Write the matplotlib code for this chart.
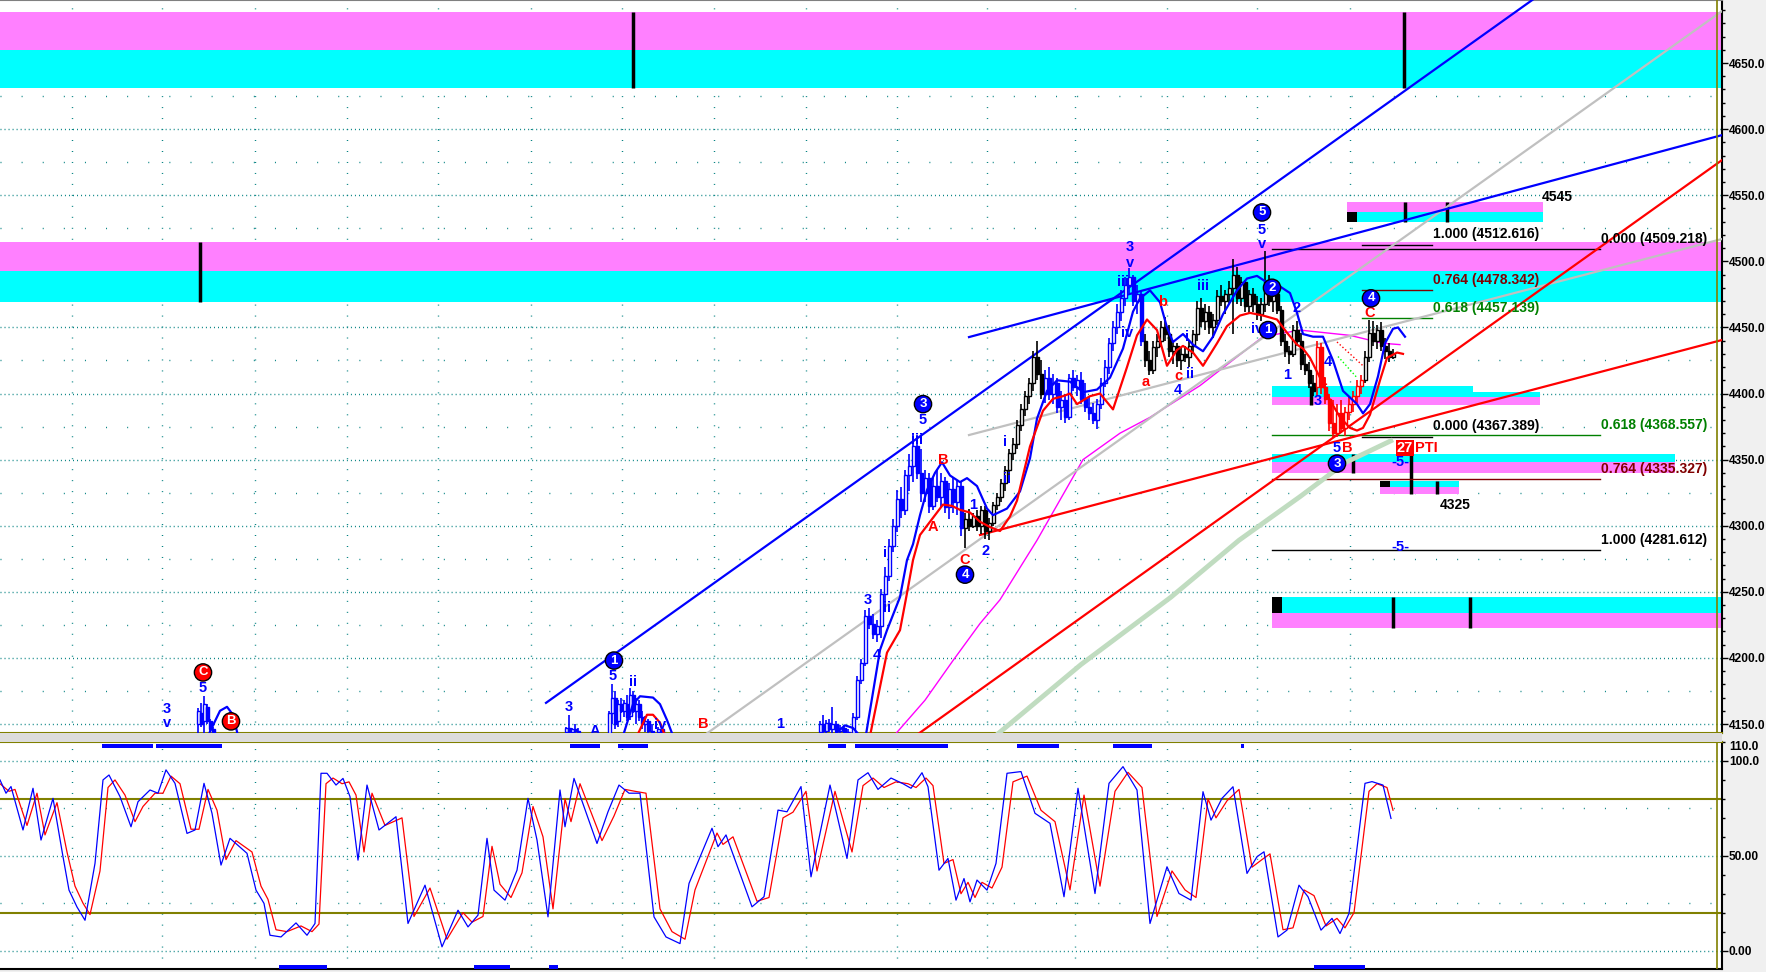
import matplotlib
matplotlib.use("Agg")
import matplotlib.pyplot as plt
from matplotlib.patches import Rectangle
from matplotlib.ticker import MultipleLocator

plt.rcParams["font.family"] = ["Liberation Sans", "DejaVu Sans"]

#! --- data --- !#
# price bars, grouped by the colour the platform painted them
blue_x = [198, 201, 204, 207, 210, 213,
          566, 569, 572, 575, 578,
          609, 612, 615, 618, 621, 624, 627, 630, 633, 636, 639, 642, 645, 648, 652, 658, 662,
          820, 823, 826, 829, 832, 836, 840, 844, 848,
          853, 857, 861, 865, 869, 873, 877, 881, 885, 889, 893, 897, 901, 905, 909, 913, 917, 921, 925, 929, 933, 937, 941, 945, 949, 953, 957, 961,
          1045, 1049, 1053, 1057, 1061, 1065, 1069, 1073, 1077, 1081, 1085, 1089, 1093, 1097, 1101, 1105, 1109, 1113, 1117, 1121, 1125, 1129, 1133, 1137, 1141]
blue_o = [4150, 4158, 4152, 4163, 4152, 4146,
          4144, 4147, 4144, 4146, 4145,
          4143, 4158, 4170, 4152, 4165, 4160, 4165, 4156, 4172, 4160, 4165, 4155, 4150, 4152, 4145, 4144, 4146,
          4144, 4150, 4145, 4151, 4146, 4150, 4145, 4147, 4143,
          4143, 4155, 4183, 4196, 4232, 4226, 4218, 4224, 4248, 4262, 4285, 4300, 4320, 4312, 4338, 4345, 4360, 4340, 4325, 4336, 4315, 4330, 4322, 4334, 4314, 4328, 4318, 4330,
          4400, 4412, 4400, 4408, 4390, 4395, 4382, 4412, 4405, 4410, 4396, 4390, 4385, 4380, 4392, 4408, 4420, 4438, 4450, 4462, 4472, 4482, 4488, 4470, 4475]
blue_h = [4162, 4166, 4171, 4165, 4154, 4148,
          4148, 4157, 4147, 4150, 4147,
          4160, 4180, 4175, 4168, 4170, 4168, 4172, 4177, 4175, 4170, 4168, 4160, 4156, 4154, 4150, 4148, 4147,
          4152, 4157, 4153, 4154, 4163, 4152, 4149, 4149, 4146,
          4158, 4186, 4199, 4236, 4238, 4233, 4229, 4252, 4269, 4290, 4305, 4327, 4329, 4342, 4354, 4370, 4369, 4358, 4342, 4340, 4336, 4343, 4340, 4337, 4332, 4336, 4334, 4334,
          4418, 4420, 4415, 4412, 4402, 4400, 4415, 4418, 4414, 4416, 4408, 4398, 4393, 4396, 4412, 4425, 4442, 4455, 4468, 4478, 4488, 4495, 4490, 4482, 4478]
blue_l = [4140, 4148, 4140, 4150, 4144, 4140,
          4140, 4142, 4140, 4143, 4141,
          4140, 4150, 4146, 4148, 4158, 4155, 4152, 4153, 4158, 4150, 4152, 4146, 4144, 4142, 4140, 4140, 4140,
          4140, 4143, 4142, 4144, 4143, 4141, 4141, 4141, 4140,
          4140, 4153, 4180, 4194, 4222, 4214, 4212, 4215, 4240, 4258, 4280, 4295, 4306, 4308, 4326, 4333, 4335, 4318, 4318, 4310, 4312, 4318, 4314, 4310, 4305, 4310, 4308, 4292,
          4393, 4395, 4392, 4385, 4380, 4378, 4380, 4402, 4398, 4392, 4386, 4380, 4377, 4373, 4388, 4405, 4415, 4432, 4445, 4455, 4466, 4476, 4466, 4460, 4436]
blue_c = [4160, 4150, 4165, 4152, 4146, 4143,
          4147, 4144, 4146, 4145, 4143,
          4158, 4170, 4150, 4165, 4160, 4166, 4155, 4172, 4160, 4165, 4155, 4150, 4152, 4145, 4143, 4146, 4142,
          4150, 4145, 4151, 4146, 4150, 4145, 4147, 4143, 4144,
          4155, 4183, 4196, 4232, 4226, 4218, 4224, 4248, 4262, 4285, 4300, 4320, 4312, 4338, 4345, 4360, 4340, 4325, 4336, 4315, 4330, 4322, 4334, 4314, 4328, 4318, 4330, 4298,
          4412, 4400, 4408, 4390, 4395, 4382, 4412, 4405, 4410, 4396, 4390, 4385, 4380, 4392, 4408, 4420, 4438, 4450, 4462, 4472, 4482, 4488, 4470, 4475, 4440]

black_x = [965, 969, 973, 977, 981, 985, 989, 993, 997, 1001, 1005, 1009, 1013, 1017, 1021, 1025, 1029, 1033, 1037, 1041,
           1145, 1149, 1153, 1157, 1161, 1165, 1169, 1173, 1177, 1181, 1185, 1189, 1193, 1197, 1201, 1205, 1209, 1213, 1217, 1221, 1225,
           1229, 1233, 1237, 1241, 1245, 1249, 1253, 1257, 1261, 1265, 1269, 1273, 1277, 1281, 1285, 1289, 1293, 1297, 1301, 1305, 1309, 1313,
           1365, 1369, 1373, 1377, 1381, 1385, 1389, 1393]
black_o = [4298, 4305, 4300, 4307, 4300, 4312, 4296, 4302, 4316, 4322, 4332, 4342, 4355, 4362, 4376, 4388, 4398, 4408, 4428, 4415,
           4440, 4425, 4418, 4435, 4440, 4450, 4445, 4432, 4436, 4425, 4430, 4428, 4436, 4445, 4465, 4455, 4462, 4450, 4456, 4474, 4470,
           4475, 4480, 4490, 4472, 4484, 4466, 4475, 4468, 4460, 4468, 4485, 4470, 4475, 4463, 4440, 4432, 4430, 4448, 4440, 4422, 4418, 4408,
           4410, 4428, 4446, 4440, 4448, 4436, 4432, 4428]
black_h = [4310, 4313, 4310, 4312, 4315, 4315, 4306, 4318, 4325, 4335, 4345, 4358, 4366, 4380, 4392, 4402, 4412, 4432, 4440, 4425,
           4445, 4432, 4440, 4445, 4455, 4458, 4452, 4440, 4438, 4435, 4436, 4440, 4448, 4470, 4472, 4468, 4466, 4460, 4478, 4482, 4478,
           4485, 4502, 4496, 4488, 4486, 4478, 4480, 4474, 4472, 4508, 4490, 4480, 4478, 4466, 4445, 4436, 4452, 4455, 4446, 4430, 4424, 4414,
           4432, 4456, 4455, 4452, 4454, 4442, 4438, 4434]
black_l = [4283, 4296, 4298, 4296, 4294, 4290, 4289, 4300, 4312, 4318, 4326, 4338, 4350, 4358, 4372, 4383, 4392, 4402, 4410, 4396,
           4420, 4414, 4415, 4428, 4435, 4440, 4428, 4422, 4420, 4418, 4424, 4420, 4430, 4440, 4450, 4448, 4445, 4442, 4452, 4466, 4460,
           4468, 4445, 4468, 4466, 4462, 4460, 4462, 4456, 4455, 4462, 4466, 4462, 4460, 4436, 4428, 4422, 4428, 4436, 4418, 4414, 4404, 4398,
           4408, 4424, 4436, 4434, 4432, 4426, 4424, 4426]
black_c = [4305, 4300, 4307, 4300, 4312, 4296, 4302, 4316, 4322, 4332, 4342, 4355, 4362, 4376, 4388, 4398, 4408, 4428, 4415, 4400,
           4425, 4418, 4435, 4440, 4450, 4445, 4432, 4436, 4425, 4430, 4428, 4436, 4445, 4465, 4455, 4462, 4450, 4456, 4474, 4470, 4475,
           4480, 4490, 4472, 4484, 4466, 4475, 4468, 4460, 4468, 4485, 4470, 4475, 4463, 4440, 4432, 4430, 4448, 4440, 4422, 4418, 4408, 4402,
           4428, 4446, 4440, 4448, 4436, 4432, 4428, 4430]

red_x = [1317, 1321, 1325, 1329, 1333, 1337, 1341, 1345, 1349, 1353, 1357, 1361]
red_o = [4405, 4435, 4405, 4396, 4378, 4370, 4385, 4374, 4386, 4392, 4398, 4406]
red_h = [4440, 4438, 4412, 4400, 4395, 4392, 4395, 4390, 4398, 4402, 4410, 4414]
red_l = [4398, 4400, 4392, 4372, 4367, 4367, 4370, 4368, 4380, 4386, 4393, 4400]
red_c = [4435, 4405, 4396, 4378, 4370, 4385, 4374, 4386, 4392, 4398, 4406, 4410]

# upper (blue) and lower (red) smoothing curves
envb_segments = [
    ([208, 213, 220, 227, 233, 238], [4141, 4149, 4160, 4163, 4157, 4141]),
    ([623, 633, 640, 653, 660, 667, 673], [4141, 4165, 4171, 4170, 4165, 4153, 4141]),
    ([833, 845, 853, 860], [4141, 4149, 4147, 4141]),
    ([866, 880, 887, 900, 907, 913, 920, 927, 935, 942, 950, 960, 967, 977, 987, 993, 1007, 1020, 1030, 1037,
      1047, 1057, 1070, 1083, 1097, 1110, 1123, 1133, 1140, 1150, 1160, 1167, 1173, 1183, 1193, 1203, 1213, 1223, 1237, 1247,
      1257, 1267, 1280, 1290, 1297, 1303, 1313, 1323, 1333, 1343, 1357, 1363, 1370, 1378, 1385, 1393, 1398, 1405],
     [4142, 4206, 4221, 4246, 4274, 4286, 4308, 4327, 4340, 4348, 4338, 4333, 4336, 4330, 4313, 4308, 4313, 4326, 4351, 4381,
      4402, 4410, 4409, 4401, 4403, 4412, 4434, 4462, 4472, 4478, 4469, 4450, 4439, 4445, 4437, 4432, 4443, 4460, 4478, 4487,
      4489, 4484, 4481, 4476, 4461, 4445, 4443, 4443, 4425, 4402, 4392, 4385, 4392, 4413, 4438, 4449, 4450, 4443]),
]
envr_segments = [
    ([637, 647, 653, 660, 665], [4141, 4157, 4157, 4151, 4141]),
    ([870, 887, 900, 907, 913, 920, 933, 943, 952, 960, 970, 980, 990, 1000, 1010, 1017, 1030, 1043, 1053, 1063,
      1070, 1077, 1090, 1100, 1113, 1127, 1137, 1147, 1157, 1167, 1177, 1183, 1193, 1203, 1217, 1227, 1240, 1250, 1263, 1277,
      1287, 1297, 1303, 1310, 1320, 1330, 1340, 1350, 1357, 1363, 1370, 1380, 1387, 1397, 1403],
     [4141, 4204, 4221, 4249, 4274, 4293, 4306, 4316, 4315, 4312, 4310, 4303, 4299, 4296, 4307, 4319, 4360, 4387, 4396, 4398,
      4400, 4392, 4398, 4400, 4388, 4420, 4444, 4456, 4448, 4421, 4433, 4436, 4431, 4421, 4438, 4451, 4459, 4461, 4459, 4456,
      4446, 4437, 4434, 4427, 4412, 4395, 4382, 4374, 4372, 4374, 4384, 4410, 4427, 4431, 4430]),
]
ma_fast_x = [895, 925, 953, 980, 1000, 1037, 1083, 1120, 1150, 1200, 1263, 1300, 1350, 1383, 1400]
ma_fast_p = [4142, 4168, 4198, 4226, 4244, 4289, 4350, 4370, 4382, 4406, 4443, 4448, 4444, 4438, 4437]
ma_slow_x = [997, 1081, 1171, 1239, 1300, 1346, 1393]
ma_slow_p = [4142, 4195, 4246, 4289, 4322, 4348, 4365]

# trend lines: (x0, p0, x1, p1)
blue_lines = [(546, 4166, 1620, 4745), (969, 4442.7, 1722, 4595.5)]
gray_lines = [(706, 4142.4, 1722, 4689.3), (969, 4368.6, 1722, 4516.9)]
red_lines = [(918, 4142.4, 1722, 4576.6), (980, 4293, 1722, 4440.5)]

# support / resistance zones: x0, x1, cyan range, magenta range
zone_x0 = [0, 0, 1347, 1272, 1473, 1272, 1380, 1272]
zone_x1 = [1722, 1722, 1543, 1473, 1540, 1675, 1459, 1722]
zone_cyan = [(4631, 4660), (4469, 4493), (4530, 4537), (4397, 4406), (4397, 4401), (4348, 4354), (4329, 4334), (4234, 4246)]
zone_mag = [(4660, 4689), (4493, 4515), (4537, 4545), (4391, 4397), (4391, 4397), (4340, 4348), (4324, 4329), (4223, 4234)]
marker_x = [633, 1404, 200, 1405, 1447, 1311, 1353, 1411, 1437, 1393, 1470]
marker_lo = [4631, 4631, 4469, 4530, 4530, 4391, 4340, 4324, 4324, 4223, 4223]
marker_hi = [4689, 4689, 4515, 4545, 4545, 4406, 4354, 4354, 4334, 4246, 4246]
square_x = [1347, 1380, 1272]
square_p = [(4530, 4537), (4329, 4334), (4234, 4246)]

# fibonacci projections
fibA = [(1.000, 4512.616, "black"), (0.764, 4478.342, "#800000"), (0.618, 4457.139, "#008000"), (0.000, 4367.389, "black")]
fibB = [(0.000, 4509.218, "black"), (0.618, 4368.557, "#008000"), (0.764, 4335.327, "#800000"), (1.000, 4281.612, "black")]

# wave labels
blue_lab = [("3", 167, 4161), ("v", 167, 4151), ("5", 203, 4177), ("3", 569, 4163), ("5", 613, 4186), ("ii", 633, 4182),
            ("iv", 660, 4149), ("A", 595, 4145), ("1", 780, 4150), ("3", 868, 4244), ("ii", 887, 4238), ("4", 877, 4202),
            ("i", 885, 4279), ("iii", 917, 4365), ("5", 923, 4380), ("1", 973, 4316), ("2", 986, 4281), ("i", 1005, 4363),
            ("ii", 1007, 4335), ("3", 1130, 4511), ("v", 1130, 4499), ("iii", 1123, 4484), ("iv", 1127, 4446), ("4", 1178, 4403),
            ("i", 1187, 4443), ("ii", 1190, 4415), ("iii", 1203, 4481), ("5", 1262, 4524), ("v", 1262, 4513), ("iv", 1257, 4449),
            ("2", 1297, 4465), ("1", 1287, 4414), ("3", 1318, 4394), ("4", 1328, 4424), ("5", 1337, 4359),
            ("-5-", 1400, 4348), ("-5-", 1400, 4284)]
red_lab = [("B", 703, 4150), ("A", 933, 4299), ("B", 943, 4350), ("C", 965, 4274), ("a", 1146, 4409), ("b", 1163, 4469),
           ("c", 1178, 4413), ("4", 1323, 4408), ("B", 1347, 4359), ("C", 1370, 4461)]
blue_circ = [("1", 614, 4198), ("3", 923, 4392), ("4", 965, 4263), ("5", 1262, 4537), ("2", 1272, 4480),
             ("1", 1268, 4448), ("3", 1337, 4347), ("4", 1371, 4472)]
red_circ = [("C", 203, 4189), ("B", 231, 4152)]

# date grid columns
grid_x = [72, 162, 255, 347, 438, 531, 622, 714, 806, 897, 987, 1075, 1167, 1257, 1350]

# stochastic oscillator
stk_x = [0, 6, 11, 23, 33, 41, 53, 63, 69, 77, 85, 95, 103, 109, 120, 131, 138, 150, 158, 166, 175, 187, 195, 204, 212, 221, 230,
         247, 256, 264, 270, 281, 296, 307, 315, 321, 327, 336, 343, 350, 358, 367, 379, 396, 408, 425, 442, 458, 468, 478, 487,
         494, 505, 517, 528, 537, 548, 560, 565, 574, 597, 608, 619, 629, 640, 654, 666, 680, 689, 712, 718, 726, 752, 764, 778,
         787, 801, 811, 830, 847, 858, 868, 878, 891, 903, 911, 922, 928, 939, 948, 956, 964, 970, 977, 987, 996, 1007, 1021,
         1035, 1050, 1064, 1078, 1095, 1109, 1123, 1137, 1150, 1167, 1179, 1191, 1203, 1211, 1222, 1233, 1247, 1257, 1264, 1278,
         1287, 1299, 1308, 1321, 1332, 1340, 1349, 1365, 1372, 1383, 1391]
stk_k = [90, 83, 86.5, 63.6, 85.6, 58.3, 80.3, 49.5, 31.9, 23, 16, 46, 90, 92.6, 81.2, 65.3, 78.5, 84.7, 83, 95.3, 88.2, 61.8,
         63.6, 88.2, 72.4, 45.1, 59.2, 51.3, 31.9, 24.9, 8.1, 7.2, 14.6, 8.1, 14.3, 93.5, 93.5, 87.3, 90.8, 81.2, 47.7, 87.3,
         63.6, 70.6, 14.3, 34.5, 2, 21.3, 12.5, 18.7, 59.2, 31.9, 26.6, 42.4, 80.3, 58.3, 17.8, 84.7, 65.3, 90.8, 56.5, 73.2,
         87.3, 83, 83, 17.8, 7.2, 3.7, 35.4, 64.5, 54.8, 61, 23.1, 28.4, 74.1, 73.2, 86.5, 38.9, 87.3, 48.6, 90, 93.8, 85, 91,
         88, 85.6, 93.8, 86.4, 42.4, 48.6, 26.6, 38, 25.7, 37.2, 31.9, 46, 93.5, 94.4, 72.4, 67.1, 28.4, 85.6, 30.1, 88.2, 97,
         84.7, 14.3, 44.2, 30.1, 26.6, 83.8, 68.8, 80.3, 86.4, 40.7, 49.5, 52.1, 7.2, 10.8, 34.5, 28.4, 10.8, 17, 9, 19.6, 88.2,
         89.1, 87.3, 69.7]
std_x = [0, 9, 15, 27, 37, 45, 57, 67, 75, 83, 90, 100, 108, 115, 125, 135, 143, 155, 163, 171, 180, 191, 199, 208, 217, 226, 236,
         252, 261, 268, 276, 287, 301, 312, 319, 326, 333, 342, 349, 356, 364, 372, 385, 402, 414, 430, 447, 463, 472, 483, 492,
         500, 511, 522, 533, 543, 553, 565, 571, 580, 602, 614, 625, 635, 646, 660, 672, 685, 695, 717, 723, 733, 757, 769, 783,
         793, 806, 817, 835, 852, 863, 873, 884, 896, 908, 916, 926, 933, 944, 953, 961, 968, 975, 982, 992, 1002, 1013, 1027,
         1041, 1055, 1070, 1084, 1100, 1115, 1128, 1142, 1157, 1172, 1185, 1196, 1208, 1216, 1227, 1239, 1252, 1262, 1270, 1283,
         1293, 1304, 1314, 1326, 1337, 1345, 1354, 1369, 1377, 1387, 1393]
std_d = [88, 84, 85, 66, 83, 61, 78, 52, 34, 25, 19, 42, 86, 90, 82, 68, 76, 83, 83, 92, 88, 64, 64, 85, 74, 48, 58, 52, 34, 27,
         11, 10, 13, 10, 14, 88, 91, 88, 89, 82, 52, 83, 66, 70, 18, 33, 6, 20, 15, 18, 55, 35, 28, 41, 76, 60, 22, 80, 68, 88,
         58, 71, 85, 84, 83, 22, 10, 6, 32, 62, 56, 60, 26, 28, 70, 73, 84, 42, 84, 52, 87, 91, 86, 89, 88, 86, 91, 87, 46, 48,
         30, 36, 28, 36, 33, 44, 89, 92, 74, 68, 32, 82, 34, 84, 94, 86, 18, 42, 32, 28, 80, 70, 79, 85, 44, 48, 51, 11, 12, 32,
         29, 13, 17, 12, 20, 84, 88, 86, 74]
sig_top = [(102, 153), (156, 222), (570, 600), (618, 648), (828, 846), (855, 948), (1017, 1059), (1113, 1152), (1241, 1244)]
sig_bot = [(279, 327), (474, 510), (549, 558), (1314, 1365)]

BLUE = "#0000ff"
RED = "#ff0000"
OLIVE = "#808000"
TEAL = "#008080"
MAG = "#ff80ff"
CYAN = "#00ffff"

fig = plt.figure(figsize=(17.66, 9.72), dpi=100, facecolor="#f0f0f0")
ax = fig.add_axes([0, 1 - 733 / 972, 1722 / 1766, 733 / 972])
ax2 = fig.add_axes([0, 3 / 972, 1722 / 1766, 227 / 972])
ax.set_xlim(0, 1722)
ax.set_ylim(4143.2, 4697.7)
ax2.set_xlim(0, 1722)
ax2.set_ylim(-9.7, 110)

# grid
for a, major, minor in [(ax, range(4150, 4700, 50), range(4175, 4700, 50)), (ax2, [0, 50, 100], [25, 75])]:
    for v in major:
        a.axhline(v, color=TEAL, lw=1, ls=(0, (0.7, 2.2)), zorder=0)
    for v in minor:
        a.axhline(v, color=TEAL, lw=1, ls=(0, (0.7, 14.5)), zorder=0)
    for gx in grid_x:
        a.axvline(gx, color=TEAL, lw=1, ls=(0, (0.7, 7.2)), zorder=0)

# zones
for x0, x1, cy, mg in zip(zone_x0, zone_x1, zone_cyan, zone_mag):
    ax.add_patch(Rectangle((x0, cy[0]), x1 - x0, cy[1] - cy[0], fc=CYAN, ec="none", zorder=1))
    ax.add_patch(Rectangle((x0, mg[0]), x1 - x0, mg[1] - mg[0], fc=MAG, ec="none", zorder=1))
ax.vlines(marker_x, marker_lo, marker_hi, color="black", lw=2.5, zorder=2)
for sx, sp in zip(square_x, square_p):
    ax.add_patch(Rectangle((sx, sp[0]), 10, sp[1] - sp[0], fc="black", ec="none", zorder=2))

# fib lines
for ratio, lvl, col in fibA:
    ax.plot([1362, 1432], [lvl, lvl], color=col, lw=1, zorder=3)
    ax.text(1433, lvl + 2.5, f"{ratio:.3f} ({lvl:.3f})", color=col, fontsize=10, fontweight="bold",
            va="bottom", ha="left", zorder=12)
for ratio, lvl, col in fibB:
    ax.plot([1272, 1600], [lvl, lvl], color=col, lw=1, zorder=3)
    ax.text(1601, lvl + 2.5, f"{ratio:.3f} ({lvl:.3f})", color=col, fontsize=10, fontweight="bold",
            va="bottom", ha="left", zorder=12)

# moving averages and trend lines
ax.plot(ma_slow_x, ma_slow_p, color="#c0dcc0", lw=3.5, zorder=3, solid_capstyle="butt")
ax.plot(ma_fast_x, ma_fast_p, color="#ff00ff", lw=1, zorder=3)
for lines, col in [(gray_lines, "#c0c0c0"), (blue_lines, BLUE), (red_lines, RED)]:
    for x0, p0, x1, p1 in lines:
        ax.plot([x0, x1], [p0, p1], color=col, lw=1.6, zorder=4)
ax.plot([1337, 1363], [4439, 4421], color=RED, lw=1, ls=":", zorder=4)
ax.plot([1338, 1357], [4428, 4412], color="#00ff00", lw=1, ls=":", zorder=4)

# price bars
for xs, o, h, l, c, col in [(blue_x, blue_o, blue_h, blue_l, blue_c, BLUE),
                           (black_x, black_o, black_h, black_l, black_c, "black"),
                           (red_x, red_o, red_h, red_l, red_c, RED)]:
    ax.vlines(xs, l, h, color=col, lw=1.2, zorder=6)
    for x, op, cl in zip(xs, o, c):
        ax.add_patch(Rectangle((x - 1.5, min(op, cl)), 3, max(abs(cl - op), 0.6),
                               fc="white" if cl >= op else col, ec=col, lw=1, zorder=7))

for xs, ps in envb_segments:
    ax.plot(xs, ps, color=BLUE, lw=1.6, zorder=8)
for xs, ps in envr_segments:
    ax.plot(xs, ps, color=RED, lw=1.6, zorder=8)

# labels
for t, x, p in blue_lab:
    ax.text(x, p, t, color=BLUE, fontsize=10.5, fontweight="bold", ha="center", va="center", zorder=12)
for t, x, p in red_lab:
    ax.text(x, p, t, color=RED, fontsize=10.5, fontweight="bold", ha="center", va="center", zorder=12)
for circ, fc in [(blue_circ, BLUE), (red_circ, RED)]:
    for t, x, p in circ:
        ax.text(x, p, t, color="white", fontsize=9.5, fontweight="bold", ha="center", va="center", zorder=13,
                bbox=dict(boxstyle="circle,pad=0.2", fc=fc, ec="black", lw=1))
ax.text(1405, 4359, "27", color="white", fontsize=10.5, fontweight="bold", ha="center", va="center", zorder=13,
        bbox=dict(boxstyle="square,pad=0.08", fc=RED, ec="none"))
ax.text(1415, 4359, "PTI", color=RED, fontsize=10.5, fontweight="bold", ha="left", va="center", zorder=13)
ax.text(1542, 4549, "4545", color="black", fontsize=10, fontweight="bold", ha="left", va="center", zorder=12)
ax.text(1440, 4316, "4325", color="black", fontsize=10, fontweight="bold", ha="left", va="center", zorder=12)

# stochastic
ax2.axhline(80, color=OLIVE, lw=1.5, zorder=1)
ax2.axhline(20, color=OLIVE, lw=1.5, zorder=1)
ax2.plot(std_x, std_d, color=RED, lw=0.9, zorder=3)
ax2.plot(stk_x, stk_k, color=BLUE, lw=0.9, zorder=4)
for x0, x1 in sig_top:
    ax2.add_patch(Rectangle((x0, 106.7), x1 - x0, 2.4, fc=BLUE, ec="none", zorder=5))
for x0, x1 in sig_bot:
    ax2.add_patch(Rectangle((x0, -9.6), x1 - x0, 2.2, fc=BLUE, ec="none", zorder=5))

for a in (ax, ax2):
    a.axvline(1717, color=OLIVE, lw=1.2, zorder=9)
    a.set_xticks([])
    a.yaxis.tick_right()
    a.tick_params(axis="y", which="major", direction="out", length=4, width=1, pad=1, labelsize=8.6)
    a.tick_params(axis="y", which="minor", direction="out", length=2.5, width=1)
    for s in ("left", "top"):
        a.spines[s].set_visible(False)
    a.spines["right"].set_linewidth(1.5)
    for lab in a.get_yticklabels():
        lab.set_fontweight("bold")

ax.set_yticks(range(4150, 4700, 50))
ax.set_yticklabels([f"{v:.1f}" for v in range(4150, 4700, 50)], fontweight="bold")
ax.yaxis.set_minor_locator(MultipleLocator(10))
ax.spines["bottom"].set_color(OLIVE)
ax.spines["bottom"].set_linewidth(1.5)
ax.spines["top"].set_visible(True)
ax.spines["top"].set_color("#808080")
ax2.set_yticks([0, 50, 100])
ax2.set_yticklabels(["0.00", "50.00", "100.0"], fontweight="bold")
ax2.yaxis.set_minor_locator(MultipleLocator(10))
ax2.spines["top"].set_visible(True)
ax2.spines["top"].set_color(OLIVE)
ax2.spines["top"].set_linewidth(1.5)
ax2.spines["bottom"].set_linewidth(1.5)

# separator strip between panes
fig.patches.append(Rectangle((0, 1 - 742 / 972), 1722 / 1766, 9 / 972, transform=fig.transFigure,
                             fc="#dcdcdc", ec="none", zorder=0))
fig.text(1729 / 1766, 1 - 747 / 972, "110.0", fontsize=8.6, fontweight="bold", va="center", ha="left")

fig.savefig("out.png", dpi=100, facecolor=fig.get_facecolor())
